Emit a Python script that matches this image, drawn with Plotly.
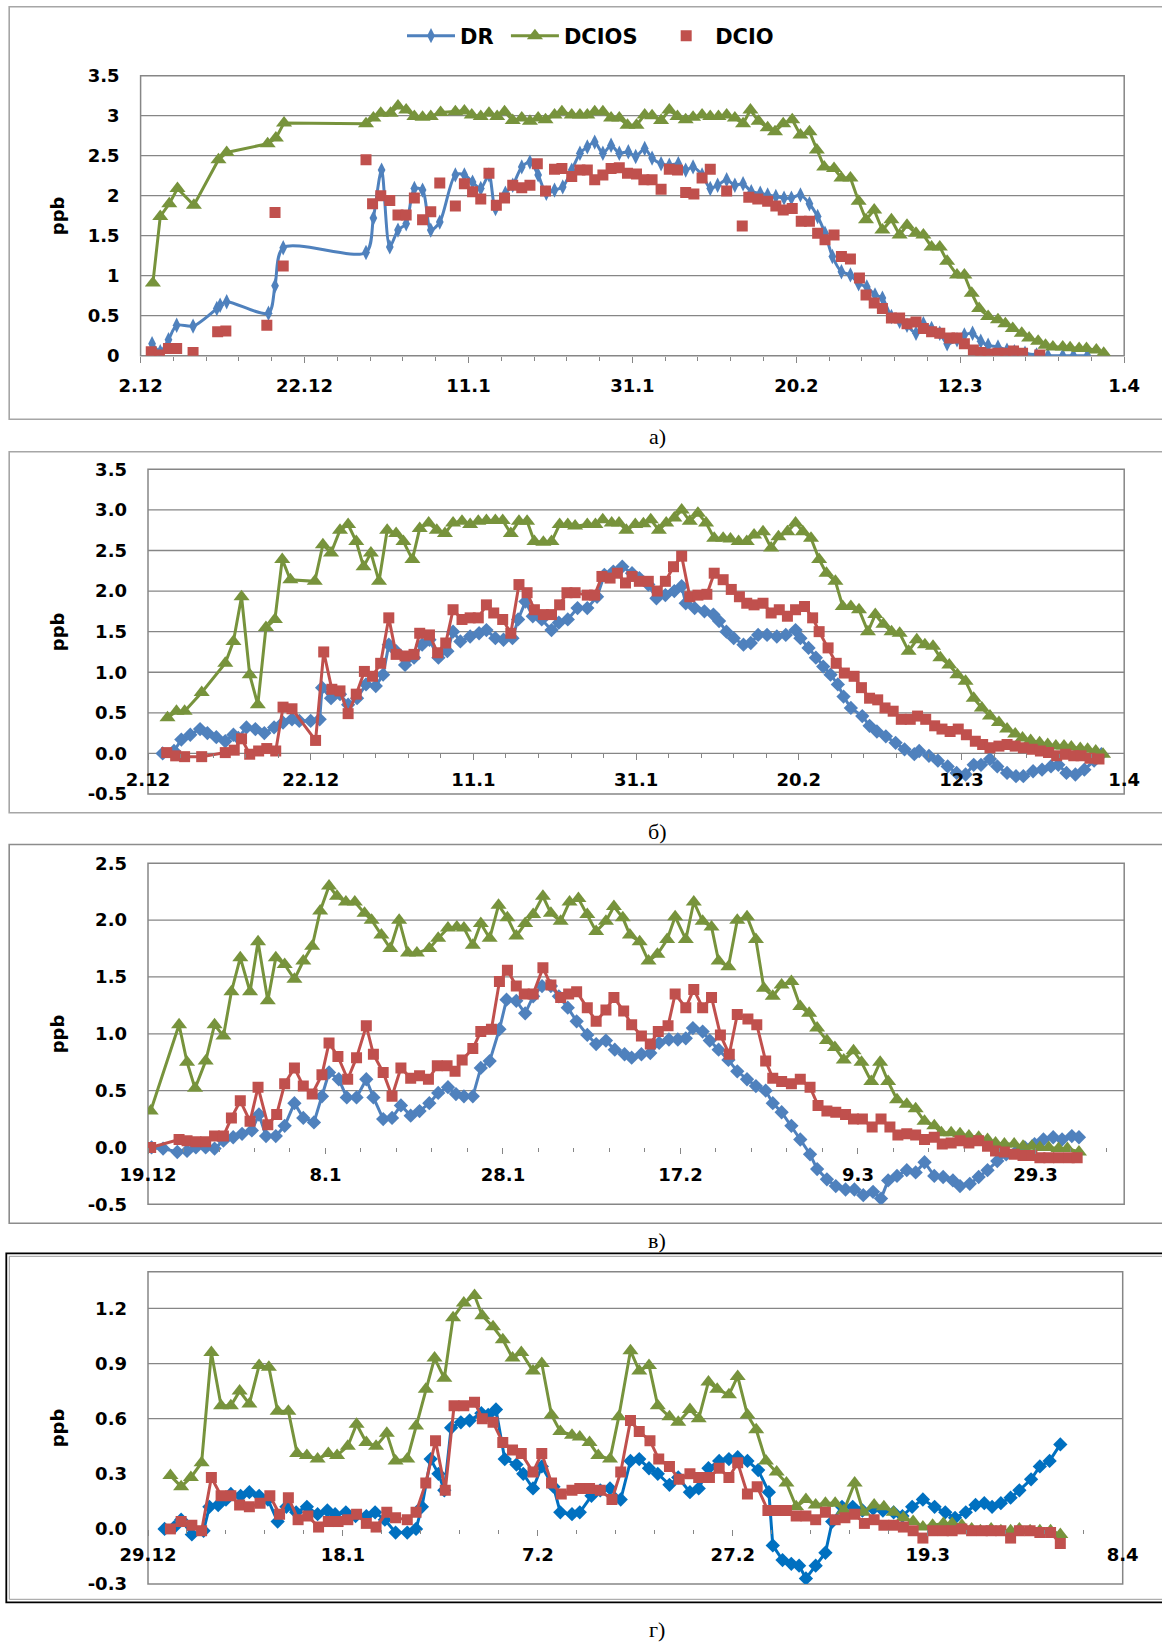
import plotly.graph_objects as go

W, H = 1162, 1643

BLUE = "#4F81BD"
BLUE_D = "#0070C0"
GREEN = "#77933C"
RED = "#C0504D"
GRIDC = "#868686"

SERIES_NAMES = ["DR", "DCIOS", "DCIO"]
# legend entries padded with no-break spaces to reproduce the original spacing
LEGEND_NAMES = ["DR\u00a0", "DCIOS\u00a0\u00a0", "DCIO"]

# ---------------- panel а) : days since 2.12 ----------------
A_X_TICKS = [0, 20, 40, 60, 80, 100, 120]
A_X_LABELS = ["2.12", "22.12", "11.1", "31.1", "20.2", "12.3", "1.4"]
A_Y_TICKS = [0, 0.5, 1, 1.5, 2, 2.5, 3, 3.5]
A_Y_LABELS = ["0", "0.5", "1", "1.5", "2", "2.5", "3", "3.5"]

A_DR_X = [1.4, 2.4, 3.4, 4.4, 6.4, 9.3, 9.7, 10.5, 15.6, 16.4,
          17.4, 27.5, 28.4, 29.4, 30.4, 31.4, 32.4, 33.4, 34.4, 35.4,
          36.5, 38.4, 39.5, 40.5, 41.5, 42.5, 43.3, 44.5, 45.4, 46.5,
          47.5, 48.5, 49.5, 50.5, 51.5, 52.6, 53.6, 54.5, 55.4, 56.4,
          57.4, 58.4, 59.5, 60.4, 61.5, 62.4, 63.5, 64.5, 65.6, 66.5,
          67.4, 68.5, 69.5, 70.4, 71.5, 72.5, 73.5, 74.5, 75.6, 76.5,
          77.5, 78.5, 79.4, 80.5, 81.6, 82.6, 83.5, 84.4, 85.5, 86.6,
          87.6, 88.6, 89.6, 90.5, 91.6, 92.6, 93.5, 94.6, 95.5, 96.5,
          97.5, 98.4, 99.6, 100.5, 101.5, 102.5, 103.4, 104.6, 105.7, 106.6,
          107.9, 109.3, 110.7, 112.5, 113.8, 115.5]
A_DR_Y = [0.15, 0.05, 0.20, 0.38, 0.37, 0.59, 0.63, 0.675, 0.53, 0.875,
          1.35, 1.29, 1.72, 2.32, 1.36, 1.57, 1.65, 2.09, 2.07, 1.57,
          1.67, 2.26, 2.26, 2.17, 2.09, 2.26, 1.84, 2.03, 2.13, 2.36,
          2.42, 2.26, 2.03, 2.07, 2.11, 2.32, 2.53, 2.61, 2.67, 2.53,
          2.63, 2.53, 2.55, 2.49, 2.59, 2.47, 2.40, 2.38, 2.40, 2.32,
          2.36, 2.26, 2.09, 2.13, 2.20, 2.13, 2.15, 2.05, 2.03, 2.01,
          1.99, 1.97, 1.97, 2.01, 1.90, 1.74, 1.53, 1.24, 1.05, 1.01,
          0.90, 0.86, 0.76, 0.72, 0.49, 0.43, 0.38, 0.28, 0.40, 0.34,
          0.28, 0.15, 0.20, 0.26, 0.28, 0.18, 0.13, 0.11, 0.07, 0.05,
          0.03, 0.01, 0.0, 0.0, 0.0, 0.0]

A_DCIOS_X = [1.5, 2.4, 3.5, 4.5, 6.5, 9.5, 10.5, 15.5, 16.5, 17.5,
             27.5, 28.4, 29.3, 30.5, 31.4, 32.4, 33.4, 34.4, 35.4, 36.6,
             38.4, 39.5, 40.4, 41.5, 42.5, 43.5, 44.4, 45.4, 46.5, 47.5,
             48.5, 49.4, 50.5, 51.4, 52.6,
             53.6, 54.5, 55.4, 56.4, 57.4, 58.4, 59.4, 60.5, 61.5, 62.4,
             63.5, 64.5, 65.5, 66.5, 67.4, 68.5, 69.5,
             70.5, 71.5, 72.5, 73.5, 74.4, 75.4, 76.5, 77.4, 78.4, 79.5,
             80.5, 81.6, 82.5, 83.4, 84.6, 85.5, 86.6, 87.6, 88.5, 89.5,
             90.5, 91.6, 92.6, 93.5, 94.6, 95.5, 96.5, 97.5, 98.4, 99.6,
             100.5, 101.4, 102.3, 103.4, 104.6, 105.5, 106.4, 107.5, 108.4, 109.5,
             110.4, 111.3, 112.5, 113.4, 114.5, 115.4, 116.6, 117.5]
A_DCIOS_Y = [0.91, 1.74, 1.90, 2.09, 1.88, 2.45, 2.54, 2.65, 2.72, 2.91,
             2.90, 2.97, 3.03, 3.03, 3.12, 3.07, 2.99, 2.98, 2.99, 3.04,
             3.05, 3.06, 3.01, 2.99, 3.03, 2.99, 3.05, 2.94, 2.97, 2.93,
             2.97, 2.95, 3.01, 3.05, 3.01,
             3.01, 3.01, 3.05, 3.05, 2.97, 2.97, 2.88, 2.88, 3.01, 3.00,
             2.94, 3.07, 2.99, 2.95, 2.98, 3.01, 2.99,
             2.99, 3.01, 2.97, 2.90, 3.07, 2.93, 2.85, 2.80, 2.90, 2.95,
             2.76, 2.80, 2.57, 2.36, 2.34, 2.22, 2.22, 1.93, 1.70, 1.82,
             1.57, 1.70, 1.51, 1.63, 1.53, 1.51, 1.36, 1.36, 1.18, 1.01,
             1.01, 0.78, 0.59, 0.49, 0.45, 0.40, 0.34, 0.28, 0.22, 0.18,
             0.13, 0.11, 0.11, 0.10, 0.09, 0.09, 0.07, 0.03]

A_DCIO_X = [1.3, 2.3, 3.4, 4.4, 6.4, 9.4, 10.4, 15.4, 16.4, 17.4,
            27.5, 28.3, 29.3, 30.4, 31.4, 32.4, 33.4, 34.4, 35.4, 36.5,
            38.4, 39.5, 40.5, 41.5, 42.5, 43.4, 44.4, 45.4, 46.5, 47.5,
            48.4, 49.4, 50.5, 51.4, 52.6, 53.6, 54.5, 55.4, 56.4, 57.4,
            58.4, 59.4, 60.5, 61.4, 62.4, 63.5, 64.5, 65.5, 66.5, 67.5,
            68.5, 69.5, 71.5, 73.4, 74.2, 75.3, 76.5, 77.5, 78.4, 79.5,
            80.6, 81.6, 82.6, 83.5, 84.6, 85.5, 86.6, 87.7, 88.5, 89.5,
            90.5, 91.6, 92.6, 93.5, 94.6, 95.5, 96.5, 97.5, 98.7, 99.6,
            100.5, 101.6, 102.5, 103.4, 104.6, 105.5, 106.5, 107.6, 109.7]
A_DCIO_Y = [0.05, 0.01, 0.09, 0.09, 0.04, 0.30, 0.31, 0.38, 1.79, 1.12,
            2.45, 1.90, 2.00, 1.94, 1.76, 1.76, 1.97, 1.70, 1.80, 2.16,
            1.87, 2.15, 2.05, 1.96, 2.28, 1.88, 1.97, 2.13, 2.10, 2.13,
            2.40, 2.06, 2.33, 2.34, 2.24, 2.32, 2.32, 2.20, 2.26, 2.34,
            2.35, 2.28, 2.27, 2.20, 2.20, 2.08, 2.33, 2.32, 2.04, 2.02,
            2.22, 2.33, 2.06, 1.62, 1.98, 1.96, 1.93, 1.87, 1.82, 1.84,
            1.68, 1.68, 1.53, 1.45, 1.51, 1.24, 1.21, 0.97, 0.76, 0.66,
            0.59, 0.47, 0.47, 0.40, 0.42, 0.34, 0.30, 0.28, 0.22, 0.22,
            0.15, 0.07, 0.04, 0.02, 0.03, 0.03, 0.06, 0.03, 0.01]

# ---------------- panel б) : days since 2.12 ----------------
B_X_TICKS = [0, 20, 40, 60, 80, 100, 120]
B_X_LABELS = ["2.12", "22.12", "11.1", "31.1", "20.2", "12.3", "1.4"]
B_Y_TICKS = [-0.5, 0, 0.5, 1, 1.5, 2, 2.5, 3, 3.5]
B_Y_LABELS = ["-0.5", "0.0", "0.5", "1.0", "1.5", "2.0", "2.5", "3.0", "3.5"]

B_DR_X = [1.8, 3.2, 4.1, 5.2, 6.4, 7.3, 8.4, 9.5, 10.5, 11.1,
          12.1, 13.2, 14.3, 15.5, 16.6, 17.7, 18.6, 20.0, 21.1, 21.4,
          22.5, 23.6, 24.6, 25.7, 26.8, 28.0, 28.9, 29.6, 30.5, 31.6,
          32.7, 33.7, 34.6, 35.7, 36.8, 37.5, 38.4, 39.6, 40.7, 41.6,
          42.7, 43.7, 44.8, 45.5, 46.4, 47.3, 48.4, 49.6, 50.5, 51.6,
          52.8, 54.0, 55.2, 56.1, 57.2, 58.3, 59.5, 60.4, 61.5, 62.5,
          63.6, 64.7, 65.6, 66.1, 67.2, 68.4, 69.5, 70.2, 71.1, 72.0,
          73.2, 74.1, 75.0, 76.1, 77.3, 78.4, 79.6, 80.2, 81.2, 82.1,
          83.0, 83.9, 84.8, 85.5, 86.4, 87.8, 88.7, 89.6, 90.7, 91.9,
          93.0, 94.2, 94.8, 96.0, 97.1, 98.3, 99.4, 100.5, 101.5, 102.4,
          103.5, 104.4, 105.6, 106.7, 107.6, 108.8, 109.9, 111.0, 111.9, 112.9,
          114.0, 115.1, 116.3, 117.2]
B_DR_Y = [0.0, 0.03, 0.17, 0.23, 0.30, 0.25, 0.20, 0.15, 0.23, 0.19,
          0.32, 0.30, 0.25, 0.32, 0.38, 0.42, 0.40, 0.40, 0.42, 0.81,
          0.68, 0.73, 0.60, 0.68, 0.85, 0.83, 0.97, 1.34, 1.26, 1.09,
          1.18, 1.34, 1.40, 1.18, 1.26, 1.50, 1.38, 1.44, 1.48, 1.52,
          1.42, 1.40, 1.42, 1.65, 1.87, 1.69, 1.65, 1.52, 1.61, 1.65,
          1.79, 1.79, 1.93, 2.20, 2.24, 2.30, 2.22, 2.16, 2.08, 1.91,
          1.95, 2.00, 2.06, 1.85, 1.79, 1.75, 1.71, 1.63, 1.50, 1.42,
          1.34, 1.36, 1.46, 1.46, 1.44, 1.46, 1.52, 1.42, 1.30, 1.18,
          1.07, 0.97, 0.85, 0.70, 0.56, 0.46, 0.34, 0.27, 0.21, 0.13,
          0.05, -0.01, 0.03, -0.03, -0.09, -0.16, -0.24, -0.26, -0.14, -0.14,
          -0.07, -0.16, -0.24, -0.28, -0.28, -0.22, -0.20, -0.16, -0.14, -0.24,
          -0.26, -0.20, -0.09, -0.01]

B_DCIOS_X = [2.4, 3.5, 4.5, 6.6, 9.5, 10.5, 11.5, 12.5, 13.5, 14.5,
             15.6, 16.5, 17.5, 20.5, 21.5, 22.5, 23.6, 24.6, 25.6, 26.5,
             27.4, 28.4, 29.4, 30.5, 31.4, 32.5, 33.4, 34.5, 35.5, 36.5,
             37.5, 38.6, 39.6, 40.6, 41.6, 42.7, 43.6, 44.6, 45.6, 46.6,
             47.5, 48.6, 49.6, 50.6, 51.6, 52.5, 54.0, 55.0, 55.9, 57.0,
             57.9, 58.8, 59.9, 60.9, 61.8, 62.8, 63.7, 64.7, 65.6, 66.6,
             67.6, 68.6, 69.6, 70.7, 71.6, 72.6, 73.6, 74.5, 75.6, 76.6,
             77.5, 78.6, 79.6, 80.5, 81.5, 82.5, 83.4, 84.5, 85.4, 86.4,
             87.4, 88.5, 89.4, 90.4, 91.4, 92.4, 93.5, 94.5, 95.5, 96.5,
             97.4, 98.5, 99.5, 100.5, 101.5, 102.5, 103.5, 104.6, 105.6, 106.6,
             107.5, 108.5, 109.6, 110.6, 111.6, 112.6, 113.5, 114.6, 115.5, 116.5,
             117.4]
B_DCIOS_Y = [0.44, 0.52, 0.52, 0.75, 1.11, 1.38, 1.93, 0.97, 0.60, 1.55,
             1.65, 2.39, 2.14, 2.12, 2.57, 2.47, 2.75, 2.82, 2.61, 2.30,
             2.47, 2.12, 2.75, 2.71, 2.61, 2.39, 2.77, 2.84, 2.75, 2.71,
             2.84, 2.86, 2.82, 2.86, 2.87, 2.87, 2.87, 2.71, 2.86, 2.86,
             2.61, 2.60, 2.61, 2.82, 2.82, 2.80, 2.82, 2.82, 2.88, 2.84,
             2.84, 2.75, 2.82, 2.83, 2.88, 2.75, 2.84, 2.90, 3.00, 2.86,
             2.96, 2.84, 2.65, 2.65, 2.64, 2.61, 2.61, 2.69, 2.73, 2.53,
             2.67, 2.73, 2.84, 2.73, 2.65, 2.39, 2.22, 2.12, 1.81, 1.81,
             1.77, 1.50, 1.71, 1.59, 1.50, 1.48, 1.26, 1.40, 1.34, 1.32,
             1.18, 1.09, 0.97, 0.89, 0.68, 0.56, 0.46, 0.38, 0.30, 0.24,
             0.19, 0.16, 0.13, 0.11, 0.09, 0.09, 0.08, 0.06, 0.05, 0.03,
             -0.01]

B_DCIO_X = [2.3, 3.4, 4.5, 6.6, 9.5, 10.6, 11.5, 12.5, 13.6, 14.6,
            15.7, 16.6, 17.7, 20.6, 21.6, 22.6, 23.6, 24.6, 25.6, 26.6,
            27.6, 28.6, 29.6, 30.5, 31.6, 32.7, 33.4, 34.6, 35.6, 36.6,
            37.5, 38.6, 39.6, 40.6, 41.6, 42.5, 43.6, 44.6, 45.6, 46.6,
            47.5, 48.6, 49.6, 50.6, 51.5, 52.5, 54.0, 54.9, 55.8, 56.8,
            57.7, 58.7, 59.5, 60.4, 61.5, 62.6, 63.6, 64.6, 65.6, 66.6,
            67.6, 68.7, 69.6, 70.7, 71.7, 72.7, 73.6, 74.5, 75.6, 76.6,
            77.6, 78.6, 79.6, 80.7, 81.7, 82.5, 83.6, 84.6, 85.6, 86.8,
            87.7, 88.7, 89.7, 90.6, 91.6, 92.6, 93.7, 94.6, 95.6, 96.7,
            97.6, 98.6, 99.6, 100.6, 101.7, 102.6, 103.5, 104.6, 105.6, 106.6,
            107.6, 108.7, 109.7, 110.7, 111.7, 112.8, 113.8, 114.7, 115.8, 116.9]
B_DCIO_Y = [0.01, -0.03, -0.04, -0.04, 0.01, 0.04, 0.18, -0.01, 0.03, 0.06,
            0.03, 0.57, 0.55, 0.16, 1.25, 0.79, 0.77, 0.49, 0.73, 1.01,
            0.95, 1.11, 1.67, 1.22, 1.20, 1.22, 1.48, 1.46, 1.24, 1.36,
            1.77, 1.65, 1.67, 1.67, 1.83, 1.73, 1.65, 1.48, 2.08, 1.98,
            1.77, 1.71, 1.71, 1.83, 1.98, 1.98, 1.95, 1.95, 2.18, 2.16,
            2.22, 2.10, 2.18, 2.12, 2.12, 2.00, 2.12, 2.30, 2.43, 1.93,
            1.95, 1.96, 2.22, 2.14, 2.02, 1.93, 1.85, 1.83, 1.85, 1.73,
            1.77, 1.69, 1.77, 1.81, 1.67, 1.50, 1.30, 1.11, 0.99, 0.95,
            0.81, 0.68, 0.66, 0.56, 0.52, 0.42, 0.42, 0.46, 0.42, 0.34,
            0.30, 0.27, 0.30, 0.23, 0.15, 0.11, 0.07, 0.09, 0.11, 0.09,
            0.07, 0.05, 0.03, 0.01, -0.03, -0.01, -0.03, -0.03, -0.06, -0.07]

# ---------------- panel в) : days since 19.12 ----------------
C_X_TICKS = [0, 20, 40, 60, 80, 100]
C_X_LABELS = ["19.12", "8.1", "28.1", "17.2", "9.3", "29.3"]
C_Y_TICKS = [-0.5, 0, 0.5, 1, 1.5, 2, 2.5]
C_Y_LABELS = ["-0.5", "0.0", "0.5", "1.0", "1.5", "2.0", "2.5"]

C_DR_X = [0.4, 1.7, 3.3, 4.4, 5.4, 6.5, 7.5, 8.5, 9.6, 10.6,
          11.7, 12.5, 13.3, 14.4, 15.4, 16.5, 17.5, 18.7, 19.6, 20.4,
          21.5, 22.4, 23.5, 24.6, 25.4, 26.5, 27.5, 28.5, 29.6, 30.6,
          31.7, 32.7, 33.8, 34.7, 35.6, 36.6, 37.5, 38.5, 39.6, 40.4,
          41.5, 42.5, 43.4, 44.4, 45.4, 46.3, 47.3, 48.3, 49.5, 50.5,
          51.6, 52.6, 53.7, 54.5, 55.6, 56.6, 57.6, 58.7, 59.7, 60.6,
          61.4, 62.5, 63.3, 64.3, 65.4, 66.4, 67.5, 68.5, 69.6, 70.4,
          71.4, 72.5, 73.5, 74.6, 75.4, 76.5, 77.5, 78.6, 79.6, 80.6,
          81.7, 82.6, 83.4, 84.4, 85.5, 86.5, 87.5, 88.6, 89.6, 90.7,
          91.5, 92.6, 93.6, 94.6, 95.7, 96.7, 97.8, 98.8, 99.9, 100.9,
          102.0, 103.0, 104.1, 104.9]
C_DR_Y = [0.00, -0.01, -0.04, -0.03, 0.00, 0.00, -0.01, 0.06, 0.09, 0.12,
          0.15, 0.29, 0.10, 0.10, 0.19, 0.39, 0.26, 0.22, 0.45, 0.66,
          0.60, 0.44, 0.44, 0.60, 0.44, 0.25, 0.26, 0.37, 0.28, 0.32,
          0.39, 0.48, 0.53, 0.47, 0.45, 0.45, 0.70, 0.76, 1.04, 1.30,
          1.29, 1.18, 1.33, 1.42, 1.42, 1.33, 1.23, 1.11, 0.99, 0.91,
          0.94, 0.86, 0.82, 0.79, 0.82, 0.83, 0.92, 0.95, 0.95, 0.96,
          1.05, 1.02, 0.94, 0.86, 0.77, 0.67, 0.60, 0.54, 0.50, 0.39,
          0.31, 0.19, 0.07, -0.06, -0.19, -0.28, -0.34, -0.37, -0.37, -0.42,
          -0.39, -0.45, -0.29, -0.25, -0.20, -0.22, -0.13, -0.25, -0.26, -0.29,
          -0.34, -0.32, -0.26, -0.20, -0.12, -0.06, -0.04, 0.00, 0.03, 0.07,
          0.09, 0.07, 0.10, 0.09]

C_DCIOS_X = [0.3, 3.5, 4.4, 5.3, 6.5, 7.5, 8.5, 9.4, 10.4, 11.5,
             12.4, 13.5, 14.4, 15.4, 16.5, 17.5, 18.5, 19.4, 20.4, 21.3,
             22.3, 23.3, 24.4, 25.2, 26.3, 27.3, 28.3, 29.3, 30.3, 31.7,
             32.7, 33.8, 34.8, 35.6, 36.6, 37.5, 38.5, 39.5, 40.5, 41.5,
             42.5, 43.4, 44.5, 45.4, 46.5, 47.5, 48.5, 49.5, 50.5, 51.6,
             52.5, 53.5, 54.3, 55.4, 56.4, 57.4, 58.5, 59.4, 60.6, 61.5,
             62.5, 63.5, 64.3, 65.4, 66.4, 67.5, 68.5, 69.4, 70.4, 71.4,
             72.5, 73.5, 74.5, 75.4, 76.5, 77.4, 78.4, 79.5, 80.4, 81.5,
             82.5, 83.4, 84.4, 85.5, 86.5, 87.5, 88.6, 89.4, 90.5, 91.5,
             92.5, 93.6, 94.6, 95.5, 96.5, 97.6, 98.6, 99.6, 100.5, 101.5,
             102.6, 103.6, 104.9]
C_DCIOS_Y = [0.32, 1.08, 0.75, 0.52, 0.76, 1.08, 0.98, 1.37, 1.67, 1.37,
             1.81, 1.29, 1.67, 1.61, 1.48, 1.64, 1.77, 2.08, 2.30, 2.21,
             2.16, 2.16, 2.06, 2.00, 1.87, 1.75, 2.00, 1.71, 1.71, 1.75,
             1.84, 1.93, 1.94, 1.93, 1.78, 1.97, 1.84, 2.13, 2.02, 1.86,
             1.97, 2.05, 2.21, 2.06, 1.99, 2.16, 2.19, 2.05, 1.90, 1.99,
             2.12, 2.02, 1.87, 1.81, 1.64, 1.70, 1.83, 2.03, 1.83, 2.16,
             1.99, 1.94, 1.64, 1.59, 2.00, 2.03, 1.83, 1.40, 1.33, 1.43,
             1.46, 1.24, 1.18, 1.05, 0.94, 0.88, 0.77, 0.85, 0.75, 0.58,
             0.75, 0.58, 0.42, 0.38, 0.34, 0.23, 0.19, 0.13, 0.13, 0.12,
             0.10, 0.09, 0.07, 0.04, 0.03, 0.03, 0.01, 0.01, 0.00, 0.00,
             -0.01, -0.01, -0.04]

C_DCIO_X = [0.3, 3.5, 4.4, 5.4, 6.5, 7.5, 8.5, 9.4, 10.4, 11.5,
            12.4, 13.5, 14.5, 15.4, 16.5, 17.5, 18.5, 19.6, 20.4, 21.4,
            22.5, 23.5, 24.6, 25.4, 26.5, 27.5, 28.5, 29.6, 30.6, 31.6,
            32.6, 33.7, 34.6, 35.4, 36.6, 37.5, 38.7, 39.6, 40.5, 41.5,
            42.4, 43.4, 44.5, 45.4, 46.5, 47.4, 48.3, 49.5, 50.5, 51.6,
            52.5, 53.6, 54.5, 55.6, 56.6, 57.5, 58.6, 59.4, 60.6, 61.5,
            62.5, 63.5, 64.5, 65.5, 66.4, 67.6, 68.6, 69.6, 70.4, 71.4,
            72.5, 73.5, 74.6, 75.5, 76.5, 77.5, 78.6, 79.5, 80.5, 81.6,
            82.6, 83.6, 84.5, 85.5, 86.5, 87.5, 88.6, 89.5, 90.5, 91.5,
            92.5, 93.6, 94.6, 95.5, 96.5, 97.6, 98.6, 99.6, 100.5, 101.5,
            102.6, 103.8, 104.7]
C_DCIO_Y = [0.00, 0.07, 0.06, 0.05, 0.05, 0.10, 0.10, 0.26, 0.41, 0.23,
            0.53, 0.20, 0.29, 0.56, 0.70, 0.54, 0.47, 0.64, 0.92, 0.80,
            0.60, 0.79, 1.07, 0.82, 0.66, 0.45, 0.70, 0.61, 0.63, 0.60,
            0.72, 0.72, 0.67, 0.77, 0.87, 1.02, 1.04, 1.46, 1.56, 1.42,
            1.35, 1.35, 1.58, 1.43, 1.32, 1.35, 1.37, 1.23, 1.11, 1.21,
            1.32, 1.20, 1.08, 0.98, 0.91, 1.02, 1.07, 1.35, 1.23, 1.39,
            1.23, 1.32, 0.99, 0.82, 1.17, 1.13, 1.08, 0.76, 0.61, 0.58,
            0.56, 0.60, 0.53, 0.37, 0.32, 0.31, 0.29, 0.25, 0.25, 0.18,
            0.25, 0.18, 0.11, 0.12, 0.11, 0.07, 0.09, 0.03, 0.04, 0.06,
            0.04, 0.06, 0.01, -0.03, -0.04, -0.06, -0.07, -0.07, -0.09, -0.09,
            -0.09, -0.09, -0.09]

# ---------------- panel г) : days since 29.12 ----------------
D_X_TICKS = [0, 20, 40, 60, 80, 100]
D_X_LABELS = ["29.12", "18.1", "7.2", "27.2", "19.3", "8.4"]
D_Y_TICKS = [-0.3, 0, 0.3, 0.6, 0.9, 1.2]
D_Y_LABELS = ["-0.3", "0.0", "0.3", "0.6", "0.9", "1.2"]

D_DR_X = [1.7, 2.7, 3.4, 4.5, 5.7, 6.3, 7.2, 8.0, 8.5, 9.5,
          10.4, 11.4, 12.3, 13.3, 14.2, 15.2, 16.3, 17.4, 18.4, 19.2,
          20.3, 21.3, 22.4, 23.3, 24.3, 25.4, 26.6, 27.5, 28.1, 29.0,
          29.8, 30.4, 31.1, 32.1, 33.0, 34.2, 34.9, 35.7, 36.6, 37.8,
          38.5, 39.5, 40.4, 41.6, 42.3, 43.5, 44.3, 45.5, 46.4, 47.4,
          48.5, 49.5, 50.4, 51.4, 52.3, 53.5, 54.4, 55.6, 56.5, 57.5,
          58.6, 59.6, 60.5, 61.5, 62.6, 63.7, 64.1, 65.1, 66.0, 66.8,
          67.5, 68.5, 69.5, 70.2, 71.2, 72.3, 73.3, 74.4, 75.4, 76.5,
          77.4, 78.4, 79.5, 80.7, 81.8, 82.8, 83.9, 84.9, 85.8, 86.6,
          87.5, 88.5, 89.4, 90.6, 91.5, 92.5, 93.6]
D_DR_Y = [0.00, 0.01, 0.05, -0.03, -0.01, 0.12, 0.13, 0.16, 0.19, 0.18,
          0.20, 0.18, 0.16, 0.04, 0.12, 0.09, 0.12, 0.08, 0.10, 0.08,
          0.09, 0.07, 0.07, 0.09, 0.05, -0.02, -0.02, 0.00, 0.12, 0.38,
          0.30, 0.21, 0.55, 0.58, 0.59, 0.63, 0.62, 0.65, 0.38, 0.35,
          0.30, 0.22, 0.34, 0.23, 0.09, 0.08, 0.09, 0.18, 0.21, 0.22,
          0.16, 0.37, 0.38, 0.33, 0.30, 0.24, 0.28, 0.20, 0.22, 0.33,
          0.37, 0.38, 0.39, 0.37, 0.32, 0.20, -0.09, -0.17, -0.19, -0.20,
          -0.27, -0.20, -0.13, 0.04, 0.12, 0.12, 0.10, 0.11, 0.10, 0.09,
          0.07, 0.12, 0.16, 0.12, 0.09, 0.06, 0.09, 0.13, 0.14, 0.12,
          0.14, 0.17, 0.21, 0.27, 0.34, 0.37, 0.46]

D_DCIOS_X = [2.3, 3.4, 4.4, 5.5, 6.5, 7.5, 8.5, 9.4, 10.4, 11.4,
             12.4, 13.3, 14.4, 15.3, 16.3, 17.4, 18.5, 19.4, 20.5, 21.4,
             22.4, 23.4, 24.5, 25.4, 26.6, 27.5, 28.5, 29.4, 30.4, 31.3,
             32.4, 33.5, 34.3, 35.4, 36.4, 37.4, 38.3, 39.5, 40.4, 41.4,
             42.3, 43.5, 44.3, 45.3, 46.2, 47.4, 48.3, 49.5, 50.4, 51.4,
             52.3, 53.5, 54.4, 55.6, 56.5, 57.5, 58.4, 59.6, 60.5, 61.5,
             62.4, 63.4, 64.5, 65.5, 66.5, 67.5, 68.5, 69.5, 70.5, 71.4,
             72.5, 73.4, 74.5, 75.5, 76.5, 77.5, 78.5, 79.5, 80.5, 81.6,
             82.5, 83.5, 84.5, 85.4, 86.5, 87.5, 88.5, 89.4, 90.5, 91.5,
             92.6, 93.6]
D_DCIOS_Y = [0.29, 0.23, 0.28, 0.36, 0.96, 0.67, 0.67, 0.75, 0.68, 0.89,
             0.88, 0.64, 0.64, 0.41, 0.40, 0.38, 0.41, 0.40, 0.45, 0.57,
             0.47, 0.45, 0.52, 0.37, 0.38, 0.56, 0.76, 0.93, 0.82, 1.15,
             1.23, 1.27, 1.16, 1.10, 1.03, 0.93, 0.96, 0.86, 0.90, 0.62,
             0.53, 0.51, 0.50, 0.47, 0.40, 0.38, 0.61, 0.97, 0.86, 0.89,
             0.67, 0.61, 0.58, 0.65, 0.60, 0.80, 0.76, 0.73, 0.83, 0.62,
             0.54, 0.37, 0.31, 0.25, 0.12, 0.16, 0.13, 0.14, 0.14, 0.10,
             0.25, 0.09, 0.13, 0.12, 0.09, 0.06, 0.04, 0.01, 0.02, 0.03,
             0.03, 0.02, 0.00, -0.01, 0.00, -0.01, -0.01, 0.00, -0.01, -0.01,
             -0.01, -0.03]

D_DCIO_X = [2.3, 3.4, 4.5, 5.5, 6.5, 7.5, 8.5, 9.4, 10.4, 11.5,
            12.5, 13.5, 14.4, 15.4, 16.4, 17.5, 18.5, 19.5, 20.5, 21.4,
            22.4, 23.4, 24.5, 25.4, 26.6, 27.5, 28.5, 29.5, 30.5, 31.4,
            32.4, 33.5, 34.3, 35.4, 36.4, 37.4, 38.3, 39.5, 40.4, 41.4,
            42.4, 43.5, 44.3, 45.3, 46.4, 47.6, 48.5, 49.5, 50.4, 51.5,
            52.4, 53.5, 54.5, 55.6, 56.5, 57.6, 58.6, 59.6, 60.5, 61.5,
            62.5, 63.6, 64.5, 65.5, 66.5, 67.5, 68.5, 69.5, 70.5, 71.5,
            72.5, 73.5, 74.5, 75.5, 76.5, 77.5, 78.5, 79.5, 80.5, 81.6,
            82.5, 83.5, 84.5, 85.6, 86.5, 87.5, 88.5, 89.4, 90.5, 91.5,
            92.6, 93.6]
D_DCIO_Y = [0.00, 0.04, 0.02, -0.01, 0.28, 0.18, 0.18, 0.13, 0.12, 0.14,
            0.18, 0.08, 0.17, 0.05, 0.07, 0.01, 0.04, 0.04, 0.05, 0.08,
            0.03, 0.01, 0.09, 0.06, 0.05, 0.09, 0.25, 0.48, 0.21, 0.67,
            0.67, 0.69, 0.60, 0.58, 0.47, 0.43, 0.41, 0.31, 0.41, 0.25,
            0.19, 0.21, 0.22, 0.22, 0.21, 0.16, 0.31, 0.59, 0.53, 0.48,
            0.38, 0.34, 0.27, 0.30, 0.28, 0.28, 0.33, 0.28, 0.36, 0.19,
            0.23, 0.10, 0.10, 0.10, 0.07, 0.07, 0.05, 0.09, 0.05, 0.06,
            0.08, 0.03, 0.05, 0.02, 0.02, 0.01, -0.01, -0.05, -0.01, -0.01,
            -0.01, 0.00, -0.01, -0.01, -0.01, -0.01, -0.05, -0.01, -0.01, -0.02,
            -0.02, -0.08]

PANEL_LABELS = ["а)", "б)", "в)", "г)"]


def fx(px):
    return px / W


def fy(py):
    return 1 - py / H


TICKFONT = dict(family="DejaVu Sans", size=18, color="black", weight="bold")

panels = [
    dict(box=(140.6, 75.7, 1124.2, 355.7), xr=[0, 120], yr=[0, 3.5],
         xt=A_X_TICKS, xl=A_X_LABELS, yt=A_Y_TICKS, yl=A_Y_LABELS,
         grid=[0.5, 1, 1.5, 2, 2.5, 3], free=False, blue=BLUE, std=8,
         data=[(A_DR_X, A_DR_Y), (A_DCIOS_X, A_DCIOS_Y), (A_DCIO_X, A_DCIO_Y)],
         frame=(9.2, 6.7, 1170, 419.3), fcol="#a6a6a6", lab_y=437),
    dict(box=(148, 469.3, 1124.2, 794), xr=[0, 120], yr=[-0.5, 3.5],
         xt=B_X_TICKS, xl=B_X_LABELS, yt=B_Y_TICKS, yl=B_Y_LABELS,
         grid=[0, 0.5, 1, 1.5, 2, 2.5, 3], free=True, blue=BLUE, std=4,
         data=[(B_DR_X, B_DR_Y), (B_DCIOS_X, B_DCIOS_Y), (B_DCIO_X, B_DCIO_Y)],
         frame=(9.2, 451.7, 1170, 812.7), fcol="#a6a6a6", lab_y=831),
    dict(box=(148, 863.3, 1124.2, 1204.3), xr=[0, 110], yr=[-0.5, 2.5],
         xt=C_X_TICKS, xl=C_X_LABELS, yt=C_Y_TICKS, yl=C_Y_LABELS,
         grid=[0.5, 1, 1.5, 2], free=True, blue=BLUE, std=5,
         data=[(C_DR_X, C_DR_Y), (C_DCIOS_X, C_DCIOS_Y), (C_DCIO_X, C_DCIO_Y)],
         frame=(9.2, 844.5, 1170, 1223.3), fcol="#8c8c8c", lab_y=1240),
    dict(box=(148, 1271.7, 1122.7, 1584), xr=[0, 100], yr=[-0.3, 1.4],
         xt=D_X_TICKS, xl=D_X_LABELS, yt=D_Y_TICKS, yl=D_Y_LABELS,
         grid=[0.6, 0.9, 1.2], free=True, blue=BLUE_D, std=4,
         data=[(D_DR_X, D_DR_Y), (D_DCIOS_X, D_DCIOS_Y), (D_DCIO_X, D_DCIO_Y)],
         frame=(6.3, 1253.3, 1170, 1602.3), fcol="#000000", lab_y=1629),
]

fig = go.Figure()
shapes = []
annotations = []
layout = {}

for i, p in enumerate(panels):
    n = "" if i == 0 else str(i + 1)
    xa, ya = "x" + n, "y" + n
    x0, y0, x1, y1 = p["box"]
    xdom = [fx(x0), fx(x1)]
    ydom = [fy(y1), fy(y0)]
    ymin, ymax = p["yr"]

    (drx, dry), (dsx, dsy), (dcx, dcy) = p["data"]
    first = i == 0
    # DR
    fig.add_trace(go.Scatter(
        x=drx, y=dry, name=LEGEND_NAMES[0], xaxis=xa, yaxis=ya, mode="lines+markers",
        line=dict(color=p["blue"], width=3, shape="spline" if first else "linear",
                  smoothing=0.8),
        marker=dict(symbol="diamond-tall" if first else "diamond",
                    size=11, color=p["blue"]),
        showlegend=first, legendrank=1))
    # DCIOS
    fig.add_trace(go.Scatter(
        x=dsx, y=dsy, name=LEGEND_NAMES[1], xaxis=xa, yaxis=ya, mode="lines+markers",
        line=dict(color=GREEN, width=3),
        marker=dict(symbol="triangle-up", size=14, color=GREEN),
        showlegend=first, legendrank=2))
    # DCIO
    fig.add_trace(go.Scatter(
        x=dcx, y=dcy, name=LEGEND_NAMES[2], xaxis=xa, yaxis=ya,
        mode="markers" if first else "lines+markers",
        line=dict(color=RED, width=3),
        marker=dict(symbol="square", size=11, color=RED),
        showlegend=first, legendrank=3))

    xpos = ydom[0] + (0 - ymin) / (ymax - ymin) * (ydom[1] - ydom[0])
    xaxis = dict(domain=xdom, range=p["xr"], tickmode="array", tickvals=p["xt"],
                 ticktext=p["xl"], ticks="outside", ticklen=6, tickwidth=1.3,
                 tickcolor=GRIDC, showgrid=False, zeroline=False, showline=False,
                 automargin=False,
                 tickfont=TICKFONT, ticklabelstandoff=p["std"],
                 minor=dict(ticks="outside", dtick=4, tick0=0, ticklen=4,
                            tickwidth=1.3, tickcolor=GRIDC, showgrid=False))
    if p["free"]:
        xaxis.update(anchor="free", position=xpos)
    else:
        xaxis.update(anchor=ya)
    yaxis = dict(domain=ydom, range=p["yr"], anchor=xa, tickmode="array",
                 tickvals=p["yt"], ticktext=p["yl"], ticks="", showgrid=False,
                 zeroline=False, showline=False, tickfont=TICKFONT,
                 automargin=False, ticklabelstandoff=20)
    layout["xaxis" + n] = xaxis
    layout["yaxis" + n] = yaxis

    # plot-area box
    shapes.append(dict(type="rect", xref=xa + " domain", yref=ya + " domain",
                       x0=0, x1=1, y0=0, y1=1, line=dict(color=GRIDC, width=1.5),
                       layer="below"))
    for g in p["grid"]:
        shapes.append(dict(type="line", xref=xa + " domain", yref=ya, x0=0, x1=1,
                           y0=g, y1=g, line=dict(color=GRIDC, width=1.3),
                           layer="below"))
    # outer frame
    fx0, fy0, fx1, fy1 = p["frame"]
    if i == 3:
        shapes.append(dict(type="rect", xref="paper", yref="paper",
                           x0=fx(fx0), x1=fx(fx1), y0=fy(fy1), y1=fy(fy0),
                           line=dict(color="#000000", width=1.8), layer="below"))
        shapes.append(dict(type="rect", xref="paper", yref="paper",
                           x0=fx(fx0 + 3), x1=fx(fx1), y0=fy(fy1 - 3), y1=fy(fy0 + 3),
                           line=dict(color="#9a9a9a", width=1), layer="below"))
    else:
        shapes.append(dict(type="rect", xref="paper", yref="paper",
                           x0=fx(fx0), x1=fx(fx1), y0=fy(fy1), y1=fy(fy0),
                           line=dict(color=p["fcol"], width=1.6), layer="below"))
    # y title
    annotations.append(dict(text="ppb", textangle=-90, xref="paper", yref="paper",
                            x=fx(57.5), y=(ydom[0] + ydom[1]) / 2, showarrow=False,
                            xanchor="center", yanchor="middle",
                            font=dict(family="DejaVu Sans", size=18, color="black",
                                      weight="bold")))
    # panel label
    annotations.append(dict(text=PANEL_LABELS[i], xref="paper", yref="paper",
                            x=fx(657), y=fy(p["lab_y"]), showarrow=False,
                            xanchor="center", yanchor="middle",
                            font=dict(family="Liberation Serif", size=22,
                                      color="black")))

fig.update_layout(
    template="none",
    width=W, height=H, autosize=False,
    margin=dict(l=0, r=0, t=0, b=0, pad=0, autoexpand=False),
    paper_bgcolor="white", plot_bgcolor="rgba(0,0,0,0)",
    shapes=shapes, annotations=annotations,
    legend=dict(orientation="h", x=fx(402), xanchor="left", y=fy(36),
                yanchor="middle", traceorder="normal", itemwidth=48,
                bgcolor="rgba(0,0,0,0)",
                font=dict(family="DejaVu Sans", size=21, color="black",
                          weight="bold")),
    **layout,
)

fig.write_html("out.html", config={"displayModeBar": False})
